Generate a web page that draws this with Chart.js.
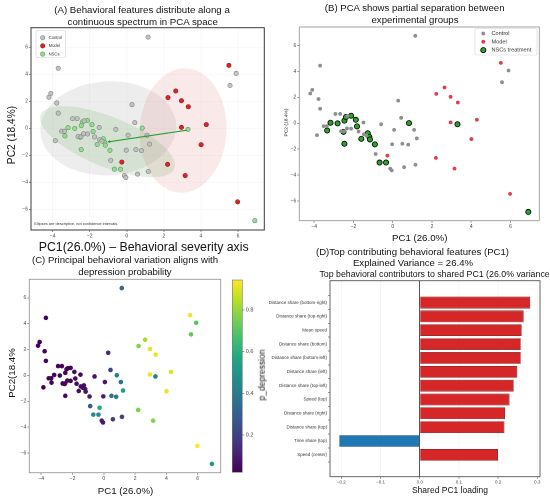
<!DOCTYPE html>
<html><head><meta charset="utf-8">
<script src="https://cdn.jsdelivr.net/npm/chart.js@4.4.1/dist/chart.umd.min.js"></script>
<style>
html,body{margin:0;padding:0;background:#fff;}
#root{position:relative;width:550px;height:501px;overflow:hidden;font-family:'Liberation Sans',Arial,Helvetica,sans-serif;}
canvas{position:absolute;}
.t{position:absolute;white-space:nowrap;color:#111;line-height:1;transform:translate(-50%,-50%);}
</style></head><body><div id="root"></div>
<script>
// ---------------- data ----------------
const controlX = [1.15,-3.70,-4.10,-4.20,-3.78,-3.70,0.28,0.43,-2.92,-2.68,-2.30,-1.49,-0.59,0.07,1.09,1.23,-3.86,-3.52,-3.36,-2.63,-2.47,-2.33,-2.12,-1.74,-1.47,-1.34,-0.03,0.49,0.79,-0.87,-0.13,-0.05,0.58,1.16,5.57,5.90];
const controlY = [6.75,4.45,2.58,2.30,1.87,1.12,1.75,0.42,0.72,0.72,0.55,0.06,-0.08,-0.51,-0.51,-1.17,-0.92,-0.22,-0.22,-0.62,-0.62,-0.40,-0.42,-0.64,-0.85,-0.95,-1.62,-1.58,-1.65,-2.37,-3.50,-3.64,-3.39,-3.20,3.17,4.07];
const controlP = [0.33,0.03,0.02,0.02,0.03,0.03,0.13,0.20,0.03,0.03,0.04,0.04,0.07,0.09,0.38,0.52,0.02,0.03,0.03,0.03,0.04,0.04,0.04,0.05,0.05,0.06,0.10,0.38,0.40,0.28,0.09,0.09,0.18,0.20,0.72,0.70];

const modelX = [5.51,2.64,2.22,2.95,3.32,2.95,4.29,4.01,2.20,3.15,5.98,-0.27];
const modelY = [4.66,2.76,2.27,2.04,1.60,0.07,0.27,-1.22,-2.67,-3.50,-5.45,-2.50];
const modelP = [0.93,0.83,0.78,0.91,0.92,0.92,0.90,0.92,0.76,0.77,0.945,0.58];

const nscX = [-3.34,-3.17,-2.81,-2.51,-2.46,-2.38,-2.46,-2.12,-1.88,-1.82,-1.60,-1.27,-1.19,-1.16,-0.91,-0.67,-0.34,0.83,3.30,6.91];
const nscY = [-0.56,0.04,-0.01,-0.66,0.20,0.48,-1.58,0.58,0.27,-0.24,-1.20,-0.77,-1.05,-1.25,-1.63,-3.03,-3.03,0.01,-0.08,-6.84];
const nscP = [0.03,0.03,0.03,0.04,0.03,0.03,0.05,0.03,0.04,0.04,0.06,0.06,0.07,0.07,0.10,0.45,0.45,0.43,0.40,0.52];

// descriptive ellipses (Control, Model, NSCs): centre, half-extents in data units, tilt in degrees
const ellipseCX = [-1.00, 3.04, -1.04];
const ellipseCY = [0.00, -0.16, -0.99];
const ellipseA = [3.67, 2.34, 3.89];
const ellipseB = [3.48, 4.61, 1.85];
const ellipseTilt = [-3, 3, 22];

const featureLabels = ['Distance share (bottom-right)','Distance share (top-right)','Mean speed','Distance share (bottom)','Distance share (bottom-left)','Distance share (left)','Distance share (top-left)','Speed (top)','Distance share (right)','Distance share (top)','Time share (top)','Speed (center)'];
const pc1Loadings = [0.282,0.265,0.260,0.258,0.258,0.249,0.240,0.229,0.218,0.216,-0.205,0.200];

const pcXTicks = [-4,-2,0,2,4,6];
const pcYTicks = [-6,-4,-2,0,2,4,6];
const loadTicks = [-0.2,-0.1,0,0.1,0.2,0.3];
const cbTicks = [0.2,0.4,0.6,0.8];

const limAx = [-5.17, 7.42], limAy = [-7.53, 7.45];
const limPx = [-4.76, 7.47], limPy = [-7.52, 7.43];
const limLoad = [-0.229, 0.307];

// ---------------- helpers ----------------
const FONT = "'Liberation Sans', Arial, Helvetica, sans-serif";
Chart.defaults.font.family = FONT;
Chart.defaults.color = '#444';
const root = document.getElementById('root');

function mkCanvas(left, top, w, h) {
  const c = document.createElement('canvas');
  c.width = w; c.height = h;
  c.style.left = left + 'px'; c.style.top = top + 'px';
  c.style.width = w + 'px'; c.style.height = h + 'px';
  root.appendChild(c);
  return c;
}
function txt(s, x, y, size, rot) {
  const d = document.createElement('div');
  d.className = 't'; d.textContent = s;
  d.style.left = x + 'px'; d.style.top = y + 'px'; d.style.fontSize = size + 'px';
  if (rot) d.style.transform = 'translate(-50%,-50%) rotate(-90deg)';
  root.appendChild(d);
}
function fmtTick(v, dec) { return (v < -1e-9 ? '\u2212' : '') + Math.abs(v).toFixed(dec); }
function mean(a) { return a.reduce((s, v) => s + v, 0) / a.length; }
function pts(xs, ys) { return xs.map((x, i) => ({x: x, y: ys[i]})); }

const viridisStops = [[68,1,84],[72,36,117],[65,68,135],[53,95,141],[42,120,142],[33,145,140],[34,168,132],[68,191,112],[122,209,81],[189,223,38],[253,231,37]];
function viridis(t) {
  t = Math.max(0, Math.min(1, t));
  const f = t * (viridisStops.length - 1), i = Math.min(Math.floor(f), viridisStops.length - 2), r = f - i;
  const a = viridisStops[i], b = viridisStops[i + 1];
  return 'rgb(' + a.map((v, k) => Math.round(v + (b[k] - v) * r)).join(',') + ')';
}

function framePlugin(color, width) {
  return { id: 'frame', afterDatasetsDraw(chart) {
    const a = chart.chartArea, ctx = chart.ctx;
    ctx.save(); ctx.strokeStyle = color; ctx.lineWidth = width;
    ctx.strokeRect(a.left, a.top, a.right - a.left, a.bottom - a.top); ctx.restore();
  }};
}
function ellipsePlugin(fills) {
  return { id: 'groupEllipses', beforeDatasetsDraw(chart) {
    const ctx = chart.ctx, a = chart.chartArea, xs = chart.scales.x, ys = chart.scales.y;
    ctx.save();
    ctx.beginPath(); ctx.rect(a.left, a.top, a.right - a.left, a.bottom - a.top); ctx.clip();
    ellipseCX.forEach((cx, i) => {
      const cy = ellipseCY[i];
      const X = xs.getPixelForValue(cx), Y = ys.getPixelForValue(cy);
      const rx = Math.abs(xs.getPixelForValue(cx + ellipseA[i]) - X);
      const ry = Math.abs(ys.getPixelForValue(cy + ellipseB[i]) - Y);
      ctx.beginPath(); ctx.ellipse(X, Y, rx, ry, ellipseTilt[i] * Math.PI / 180, 0, 2 * Math.PI);
      ctx.fillStyle = fills[i]; ctx.fill();
    });
    ctx.restore();
  }};
}
function arrowPlugin(fromX, fromY, toX, toY, color) {
  return { id: 'centroidArrow', afterDatasetsDraw(chart) {
    const ctx = chart.ctx, xs = chart.scales.x, ys = chart.scales.y;
    const x1 = xs.getPixelForValue(mean(fromX)), y1 = ys.getPixelForValue(mean(fromY));
    const x2 = xs.getPixelForValue(mean(toX)), y2 = ys.getPixelForValue(mean(toY));
    const ang = Math.atan2(y2 - y1, x2 - x1), h = 3.2;
    ctx.save(); ctx.strokeStyle = color; ctx.fillStyle = color; ctx.lineWidth = 1.1;
    ctx.beginPath(); ctx.moveTo(x1, y1); ctx.lineTo(x2 - h*0.7*Math.cos(ang), y2 - h*0.7*Math.sin(ang)); ctx.stroke();
    ctx.beginPath(); ctx.moveTo(x2, y2);
    ctx.lineTo(x2 - h*Math.cos(ang - 0.5), y2 - h*Math.sin(ang - 0.5));
    ctx.lineTo(x2 - h*Math.cos(ang + 0.5), y2 - h*Math.sin(ang + 0.5));
    ctx.closePath(); ctx.fill(); ctx.restore();
  }};
}
function legendPlugin(box, mx, tx, y0, dy, size) {
  return { id: 'boxLegend', afterDatasetsDraw(chart) {
    const ctx = chart.ctx;
    ctx.save();
    ctx.fillStyle = 'rgba(255,255,255,0.85)'; ctx.strokeStyle = '#d2d2d2'; ctx.lineWidth = 0.6;
    ctx.beginPath();
    if (ctx.roundRect) ctx.roundRect(box[0], box[1], box[2], box[3], 1.5); else ctx.rect(box[0], box[1], box[2], box[3]);
    ctx.fill(); ctx.stroke();
    ctx.font = size + 'px ' + FONT; ctx.textBaseline = 'middle'; ctx.textAlign = 'left';
    chart.data.datasets.forEach((ds, i) => {
      const y = y0 + i * dy;
      ctx.beginPath(); ctx.arc(mx, y, ds.pointRadius, 0, 2 * Math.PI);
      ctx.fillStyle = ds.pointBackgroundColor; ctx.fill();
      if (ds.pointBorderWidth > 0) { ctx.strokeStyle = ds.pointBorderColor; ctx.lineWidth = ds.pointBorderWidth; ctx.stroke(); }
      ctx.fillStyle = '#333'; ctx.fillText(ds.label, tx, y);
    });
    ctx.restore();
  }};
}
function textPlugin(items) {
  return { id: 'canvasTexts', afterDraw(chart) {
    const ctx = chart.ctx;
    items.forEach(it => {
      ctx.save(); ctx.font = it.size + 'px ' + FONT; ctx.fillStyle = it.color || '#222';
      ctx.textAlign = it.align || 'center'; ctx.textBaseline = 'middle';
      ctx.translate(it.x, it.y); if (it.rot) ctx.rotate(-Math.PI / 2);
      ctx.fillText(it.text, 0, 0); ctx.restore();
    });
  }};
}
function pcScales(xlim, ylim, yW, xH, fs, gridColor) {
  const grid = { display: true, drawOnChartArea: !!gridColor, color: gridColor || 'transparent', lineWidth: 0.6, tickLength: 2, tickColor: '#555', tickWidth: 0.6 };
  return {
    x: { type: 'linear', min: xlim[0], max: xlim[1],
      afterBuildTicks: s => { s.ticks = pcXTicks.map(v => ({value: v})); },
      afterFit: s => { s.height = xH; },
      ticks: { font: {size: fs}, padding: 1, maxRotation: 0, autoSkip: false, callback: v => fmtTick(v, 0) },
      grid: grid, border: {display: false} },
    y: { type: 'linear', min: ylim[0], max: ylim[1],
      afterBuildTicks: s => { s.ticks = pcYTicks.map(v => ({value: v})); },
      afterFit: s => { s.width = yW; },
      ticks: { font: {size: fs}, padding: 1, autoSkip: false, callback: v => fmtTick(v, 0) },
      grid: grid, border: {display: false} }
  };
}
const baseOpts = { responsive: false, devicePixelRatio: 2, animation: false, events: [],
  plugins: { legend: {display: false}, tooltip: {enabled: false} } };

// ---------------- Panel A ----------------
new Chart(mkCanvas(0, 0, 272, 244), {
  type: 'scatter',
  data: { datasets: [
    { label: 'Control', data: pts(controlX, controlY), pointRadius: 2.2, pointBackgroundColor: 'rgba(188,188,188,0.9)', pointBorderColor: 'rgba(125,125,125,0.95)', pointBorderWidth: 0.6 },
    { label: 'Model', data: pts(modelX, modelY), pointRadius: 2.2, pointBackgroundColor: '#d62728', pointBorderColor: '#9e1b1d', pointBorderWidth: 0.6 },
    { label: 'NSCs', data: pts(nscX, nscY), pointRadius: 2.2, pointBackgroundColor: 'rgba(152,212,150,0.95)', pointBorderColor: '#4f9f4f', pointBorderWidth: 0.6 }
  ]},
  options: Object.assign({}, baseOpts, {
    layout: { padding: {left: 0, right: 7.7, top: 27.7, bottom: 0} },
    scales: pcScales(limAx, limAy, 31, 14, 5, 'rgba(0,0,0,0.05)')
  }),
  plugins: [
    ellipsePlugin(['rgba(150,150,150,0.17)', 'rgba(220,110,110,0.15)', 'rgba(110,175,105,0.2)']),
    framePlugin('#3a3a3a', 1),
    arrowPlugin(modelX, modelY, nscX, nscY, '#2ca02c'),
    legendPlugin([36, 30.5, 29.5, 27], 42.7, 48.6, 37.7, 8.2, 4.2),
    textPlugin([{text: 'Ellipses are descriptive, not confidence intervals.', x: 34.3, y: 223.7, size: 3.9, align: 'left', color: '#333'}])
  ]
});

// ---------------- Panel B ----------------
new Chart(mkCanvas(275, 0, 275, 244), {
  type: 'scatter',
  data: { datasets: [
    { label: 'Control', data: pts(controlX, controlY), pointRadius: 1.9, pointBackgroundColor: '#8e8e8e', pointBorderWidth: 0 },
    { label: 'Model', data: pts(modelX, modelY), pointRadius: 1.9, pointBackgroundColor: '#e23d48', pointBorderWidth: 0 },
    { label: 'NSCs treatment', data: pts(nscX, nscY), pointRadius: 2.6, pointBackgroundColor: '#2ca02c', pointBorderColor: '#000', pointBorderWidth: 0.8 }
  ]},
  options: Object.assign({}, baseOpts, {
    layout: { padding: {left: 0, right: 10.7, top: 27, bottom: 0} },
    scales: pcScales(limPx, limPy, 24.3, 23.3, 5, null)
  }),
  plugins: [
    framePlugin('#9a9a9a', 0.9),
    legendPlugin([200, 28.5, 62, 26.5], 208.3, 216.5, 33.5, 8.3, 5.6),
    textPlugin([{text: 'PC2 (18.4%)', x: 11, y: 122.5, size: 4.9, rot: true, color: '#222'}])
  ]
});

// ---------------- Panel C ----------------
const allP = controlP.concat(modelP, nscP);
const pMin = Math.min.apply(null, allP), pMax = Math.max.apply(null, allP);
new Chart(mkCanvas(0, 250, 228, 251), {
  type: 'scatter',
  data: { datasets: [
    { label: 'p_depression', data: pts(controlX.concat(modelX, nscX), controlY.concat(modelY, nscY)),
      pointRadius: 2.3, pointBorderWidth: 0,
      pointBackgroundColor: allP.map(p => viridis((p - pMin) / (pMax - pMin))) }
  ]},
  options: Object.assign({}, baseOpts, {
    layout: { padding: {left: 0, right: 7.3, top: 29.3, bottom: 0} },
    scales: pcScales(limPx, limPy, 29.3, 28.3, 5, null)
  }),
  plugins: [framePlugin('#9a9a9a', 0.9)]
});

// colorbar
new Chart(mkCanvas(228, 250, 45, 251), {
  type: 'bar',
  data: { labels: ['p_depression'], datasets: [{
    data: [[pMin, pMax]], borderWidth: 0, barPercentage: 1, categoryPercentage: 1,
    backgroundColor: c => {
      const ch = c.chart, a = ch.chartArea;
      if (!a) return viridis(0.5);
      const g = ch.ctx.createLinearGradient(0, a.bottom, 0, a.top);
      viridisStops.forEach((s, i) => g.addColorStop(i / (viridisStops.length - 1), 'rgb(' + s.join(',') + ')'));
      return g;
    } }] },
  options: Object.assign({}, baseOpts, {
    layout: { padding: {left: 4.3, right: 0, top: 30, bottom: 28.7} },
    scales: {
      x: { display: false },
      y: { position: 'right', min: pMin, max: pMax,
        afterBuildTicks: s => { s.ticks = cbTicks.map(v => ({value: v})); },
        afterFit: s => { s.width = 30.7; },
        ticks: { font: {size: 5.5}, padding: 1.5, callback: v => v.toFixed(1) },
        grid: { drawOnChartArea: false, tickLength: 2, tickColor: '#555', tickWidth: 0.6 },
        border: { display: false } }
    }
  }),
  plugins: [framePlugin('#777', 0.6)]
});

// ---------------- Panel D ----------------
new Chart(mkCanvas(250, 250, 300, 251), {
  type: 'bar',
  data: { datasets: [{
    label: 'Shared PC1 loading', data: pc1Loadings.map((v, i) => ({x: v, y: i})),
    backgroundColor: pc1Loadings.map(v => v < 0 ? '#1f77b4' : '#d62728'),
    borderColor: pc1Loadings.map(v => v < 0 ? '#24496b' : '#7c2020'),
    borderWidth: 0.6, barPercentage: 0.85, categoryPercentage: 1 }] },
  options: Object.assign({}, baseOpts, {
    indexAxis: 'y',
    layout: { padding: {left: 0, right: 10, top: 30.7, bottom: 0} },
    scales: {
      x: { type: 'linear', min: limLoad[0], max: limLoad[1],
        afterBuildTicks: s => { s.ticks = loadTicks.map(v => ({value: v})); },
        afterFit: s => { s.height = 24.3; },
        ticks: { font: {size: 4.5}, padding: 1, autoSkip: false, maxRotation: 0, callback: v => fmtTick(v, 1) },
        grid: { color: c => (c.tick && Math.abs(c.tick.value) < 1e-9) ? '#444' : 'rgba(0,0,0,0.07)',
                lineWidth: c => (c.tick && Math.abs(c.tick.value) < 1e-9) ? 0.9 : 0.6,
                tickLength: 2, tickColor: '#555', tickWidth: 0.6 },
        border: { display: false } },
      y: { type: 'linear', reverse: true, min: -0.99, max: 11.99,
        afterBuildTicks: s => { s.ticks = featureLabels.map((_, i) => ({value: i})); },
        afterFit: s => { s.width = 80; },
        ticks: { font: {size: 4.5}, padding: 1, autoSkip: false, color: '#333', callback: v => featureLabels[v] !== undefined ? featureLabels[v] : '' },
        grid: { drawOnChartArea: false, tickLength: 2, tickColor: '#555', tickWidth: 0.6 },
        border: { display: false } }
    }
  }),
  plugins: [framePlugin('#555', 0.9)]
});

// ---------------- titles ----------------
txt('(A) Behavioral features distribute along a', 142, 10, 9.7);
txt('continuous spectrum in PCA space', 142.7, 21.7, 9.7);
txt('PC1(26.0%) \u2013 Behavioral severity axis', 143.7, 247, 12.3);
txt('PC2 (18.4%)', 12, 135.3, 10.2, true);

txt('(B) PCA shows partial separation between', 414.7, 8, 9.6);
txt('experimental groups', 415, 19.7, 9.6);
txt('PC1 (26.0%)', 419.7, 238.3, 9.7);

txt('(C) Principal behavioral variation aligns with', 125, 260, 9.6);
txt('depression probability', 125, 271.7, 9.6);
txt('PC1 (26.0%)', 125.5, 490.7, 9.7);
txt('PC2(18.4%', 11.7, 372.5, 9.7, true);
txt('p_depression', 262, 375, 8.5, true);

txt('(D)Top contributing behavioral features (PC1)', 412.5, 251.7, 9.6);
txt('Explained Variance = 26.4%', 413, 263.3, 9.6);
txt('Top behavioral contributors to shared PC1 (26.0% variance)', 436, 274.3, 8.8);
txt('Shared PC1 loading', 450, 490, 8.5);
</script>
</body></html>
